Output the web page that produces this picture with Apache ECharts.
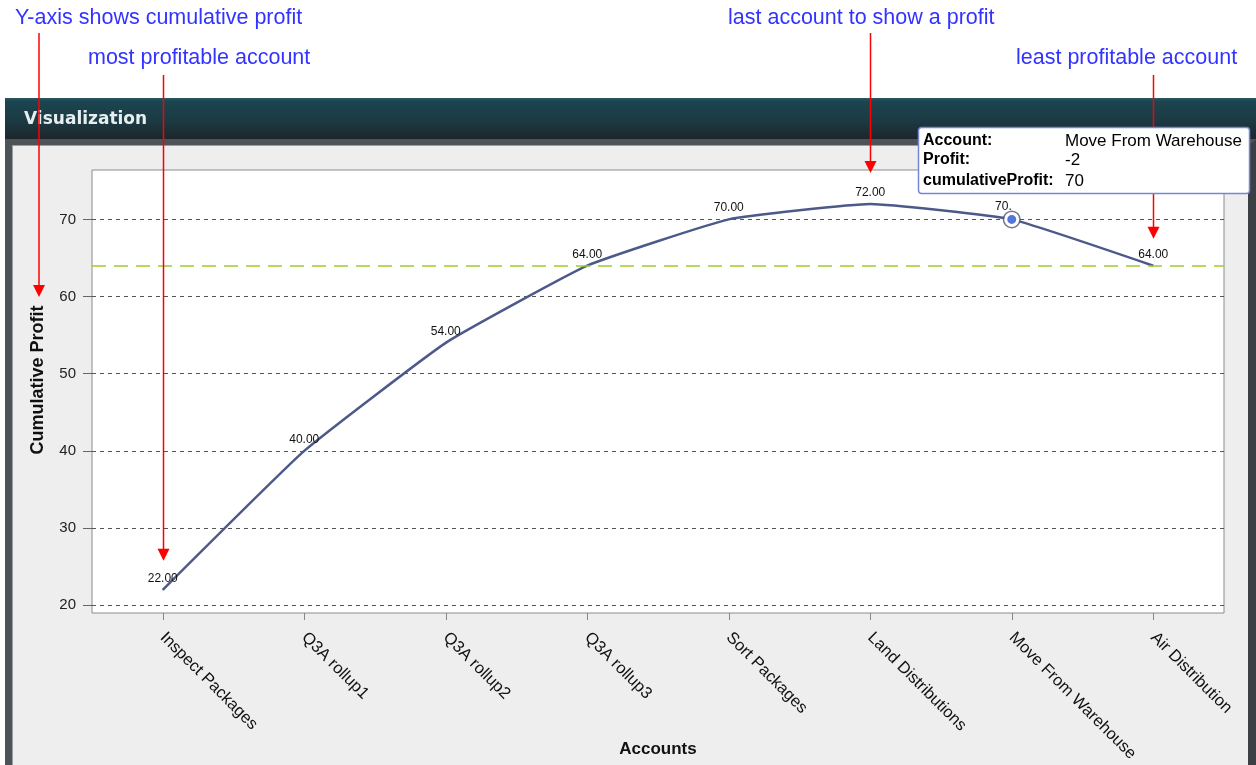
<!DOCTYPE html>
<html>
<head>
<meta charset="utf-8">
<script src="https://cdn.jsdelivr.net/npm/echarts@6/dist/echarts.min.js"></script>
<style>
  html, body { margin: 0; padding: 0; background: #fff; }
  #wrap { position: relative; width: 1256px; height: 765px; overflow: hidden; }
  .header {
    position: absolute; left: 5px; top: 98px; width: 1251px; height: 41px;
    background: linear-gradient(#2a5965 0, #1b4550 8%, #1b3a43 55%, #1e262b 100%);
  }
  .panel {
    position: absolute; left: 5px; top: 139px; width: 1236px; height: 640px;
    background: #eeeeee;
    border-left: 7px solid #4e5358; border-top: 6px solid #4e5358; border-right: 9px solid #3c4045;
    box-sizing: content-box;
    box-shadow: inset 1px 1px 0 #9a9ea2;
  }
  #chart { position: absolute; left: 0; top: 0; width: 1256px; height: 765px; }
</style>
</head>
<body>
<div id="wrap">
  <div class="header"></div>
  <div class="panel"></div>
  <div id="chart"></div>
</div>
<script>
// data
const categories = ['Inspect Packages', 'Q3A rollup1', 'Q3A rollup2', 'Q3A rollup3', 'Sort Packages', 'Land Distributions', 'Move From Warehouse', 'Air Distribution']
const profit = [22, 18, 14, 10, 6, 2, -2, -6]
const cumulativeProfit = [22, 40, 54, 64, 70, 72, 70, 64]
const yTicks = [20, 30, 40, 50, 60, 70]
const referenceValue = 64
const hoverIndex = 6
const yMin = 19
const yMax = 76.4

const blue = '#3333ff'
const red = '#ff0000'
const font = '"Liberation Sans", Arial, sans-serif'

let chart = echarts.init(document.getElementById('chart'), null, { renderer: 'canvas' })

chart.setOption({
  animation: false,
  backgroundColor: 'transparent',
  grid: {
    left: 92,
    right: 32,
    top: 170,
    bottom: 152,
    containLabel: false,
    outerBoundsMode: 'none',
    show: true,
    backgroundColor: '#fff',
    borderColor: '#8c8c8c',
    borderWidth: 1
  },
  xAxis: {
    type: 'category',
    data: categories,
    boundaryGap: true,
    name: 'Accounts',
    nameLocation: 'middle',
    nameGap: 128,
    nameMoveOverlap: false,
    nameTextStyle: { fontFamily: font, fontSize: 17, fontWeight: 'bold', color: '#111' },
    axisLine: { show: false },
    axisTick: { show: true, alignWithLabel: true, length: 7, lineStyle: { color: '#888' } },
    axisLabel: { rotate: -45, margin: 22, fontFamily: font, fontSize: 16.5, color: '#111' },
    splitLine: { show: false }
  },
  yAxis: {
    type: 'value',
    min: yMin,
    max: yMax,
    axisLine: { show: false },
    axisTick: { show: true, length: 9, customValues: yTicks, lineStyle: { color: '#666' } },
    axisLabel: { margin: 16, customValues: yTicks, fontFamily: font, fontSize: 15, color: '#222' },
    splitLine: { show: true, lineStyle: { color: '#555', type: [4, 4], width: 1 } }
  },
  series: [
    {
      // dark outer ring of the hovered point
      type: 'scatter',
      z: 1,
      silent: true,
      symbolSize: 18,
      itemStyle: { color: '#4b5679' },
      data: cumulativeProfit.map((v, i) => (i === hoverIndex ? v : '-'))
    },
    {
      name: 'cumulativeProfit',
      type: 'line',
      smooth: 0.12,
      symbol: 'circle',
      symbolSize: 1,
      showSymbol: true,
      lineStyle: { color: '#4c5989', width: 2.5 },
      itemStyle: { color: '#4c5989' },
      label: {
        show: true,
        position: 'top',
        distance: 5,
        fontFamily: font,
        fontSize: 12,
        color: '#111',
        formatter: p => p.value.toFixed(2)
      },
      labelLayout: { hideOverlap: false },
      data: cumulativeProfit.map((v, i) => {
        if (i !== hoverIndex) return v
        return {
          value: v,
          symbolSize: 12,
          itemStyle: { color: '#5475de', borderColor: '#fff', borderWidth: 3 },
          // the hover marker clips this label in the original view
          label: { formatter: p => p.value.toFixed(2).slice(0, 3), align: 'right', distance: -1 }
        }
      }),
      markLine: {
        silent: true,
        symbol: 'none',
        label: { show: false },
        lineStyle: { color: '#9ccc2c', type: [14, 8], width: 1.5 },
        data: [{ yAxis: referenceValue }]
      }
    }
  ]
})

// annotations: arrows point at axis title and at chosen accounts
function arrow(id, x, y1, y2) {
  return [
    { type: 'line', id: id + '-l', z: 50, shape: { x1: x, y1: y1, x2: x, y2: y2 - 10 }, style: { stroke: red, lineWidth: 1.5 } },
    { type: 'polygon', id: id + '-h', z: 50, shape: { points: [[x - 6, y2 - 12], [x + 6, y2 - 12], [x, y2]] }, style: { fill: red } }
  ]
}
function note(id, text, x, y) {
  return { type: 'text', id: id, z: 50, x: x, y: y, style: { text: text, fill: blue, font: '21.5px ' + font, textVerticalAlign: 'middle' } }
}

const px = i => chart.convertToPixel({ seriesIndex: 1 }, [i, cumulativeProfit[i]])
const mostIdx = profit.indexOf(Math.max(...profit))
const leastIdx = profit.indexOf(Math.min(...profit))
let lastIdx = 0
profit.forEach((p, i) => { if (p > 0) lastIdx = i })

const pMost = px(mostIdx)
const pLast = px(lastIdx)
const pLeast = px(leastIdx)

const tipX = 918
const tipY = 127
const tipFont = '17px ' + font
const tipBold = 'bold 16px ' + font

chart.setOption({
  graphic: [
    { type: 'text', id: 'vis', z: 40, x: 24, y: 120, style: { text: 'Visualization', fill: '#e6eef0', font: 'bold 17px "DejaVu Sans", sans-serif', textVerticalAlign: 'middle' } },
    {
      type: 'text', id: 'yname', z: 40, x: 38, y: 380, rotation: Math.PI / 2,
      style: { text: 'Cumulative Profit', fill: '#111', font: 'bold 18px ' + font, textAlign: 'center', textVerticalAlign: 'middle' }
    },
    note('n1', 'Y-axis shows cumulative profit', 15, 18),
    note('n2', 'most profitable account', 88, 58),
    note('n3', 'last account to show a profit', 728, 18),
    note('n4', 'least profitable account', 1016, 58),
    ...arrow('a1', 39, 33, 297),
    ...arrow('a2', Math.round(pMost[0]) + 0.5, 75, pMost[1] - 29),
    ...arrow('a3', Math.round(pLast[0]) + 0.5, 33, pLast[1] - 31),
    ...arrow('a4', Math.round(pLeast[0]) + 0.5, 75, pLeast[1] - 27),
    {
      type: 'group',
      id: 'tip',
      z: 60,
      x: tipX,
      y: tipY,
      children: [
        { type: 'rect', z: 60, shape: { x: 0.5, y: 0.5, width: 331, height: 66, r: 3 }, style: { fill: '#fff', stroke: '#7487d4', lineWidth: 1.5 } },
        { type: 'text', z: 61, x: 5, y: 14, style: { text: 'Account:', font: tipBold, fill: '#000', textVerticalAlign: 'middle' } },
        { type: 'text', z: 61, x: 5, y: 33, style: { text: 'Profit:', font: tipBold, fill: '#000', textVerticalAlign: 'middle' } },
        { type: 'text', z: 61, x: 5, y: 54, style: { text: 'cumulativeProfit:', font: tipBold, fill: '#000', textVerticalAlign: 'middle' } },
        { type: 'text', z: 61, x: 147, y: 14, style: { text: categories[hoverIndex], font: tipFont, fill: '#000', textVerticalAlign: 'middle' } },
        { type: 'text', z: 61, x: 147, y: 33, style: { text: String(profit[hoverIndex]), font: tipFont, fill: '#000', textVerticalAlign: 'middle' } },
        { type: 'text', z: 61, x: 147, y: 54, style: { text: String(cumulativeProfit[hoverIndex]), font: tipFont, fill: '#000', textVerticalAlign: 'middle' } }
      ]
    }
  ]
})
</script>
</body>
</html>
